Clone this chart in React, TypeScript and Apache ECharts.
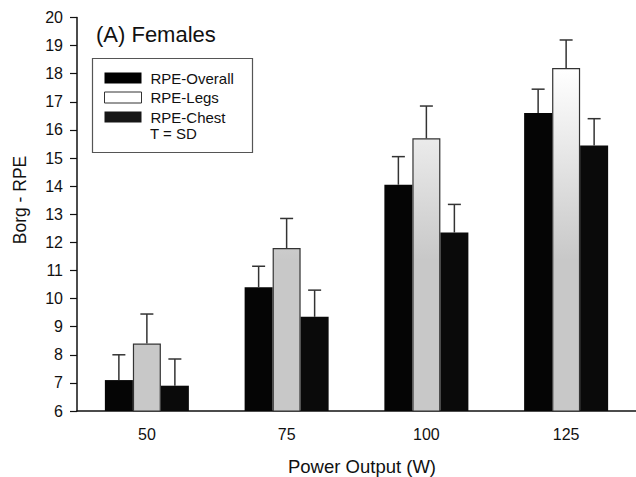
import React, { useEffect, useRef } from "react";
import * as echarts from "echarts";

const categories = ["50", "75", "100", "125"];
const seriesNames = ["RPE-Overall", "RPE-Legs", "RPE-Chest"];
const overall = [7.1, 10.4, 14.05, 16.6];
const overallSD = [0.9, 0.75, 1.0, 0.85];
const legs = [8.4, 11.8, 15.7, 18.2];
const legsSD = [1.05, 1.05, 1.15, 1.0];
const chest = [6.9, 9.35, 12.35, 15.45];
const chestSD = [0.95, 0.95, 1.0, 0.95];
const yTicks = { min: 6, max: 20, interval: 1 };

const FONT = "'Liberation Sans', Arial, Helvetica, sans-serif";
const INK = "#111";
const BAR_W = 28;

export default function App() {
  const ref = useRef<HTMLDivElement>(null);
  useEffect(() => {
    if (!ref.current) return;
    const chart = echarts.init(ref.current, null, { renderer: "svg" });

    const legsFill = new echarts.graphic.LinearGradient(
      0, 70, 0, 260,
      [
        { offset: 0, color: "#ffffff" },
        { offset: 1, color: "#c8c8c8" },
      ],
      true
    );

    const errSeries = (means: number[], sds: number[], offset: number) => ({
      type: "custom",
      silent: true,
      z: 5,
      data: means.map((m, i) => [i, m, m + sds[i]]),
      encode: { x: 0, y: [1, 2] },
      renderItem: (params: any, api: any) => {
        const i = api.value(0);
        const a = api.coord([i, api.value(1)]);
        const b = api.coord([i, api.value(2)]);
        const x = a[0] + offset;
        const style = { stroke: "#333", lineWidth: 1.5 };
        return {
          type: "group",
          children: [
            { type: "line", shape: { x1: x, y1: a[1], x2: x, y2: b[1] }, style },
            { type: "line", shape: { x1: x - 6.5, y1: b[1], x2: x + 6.5, y2: b[1] }, style },
          ],
        };
      },
    });

    chart.setOption({
      animation: false,
      textStyle: { fontFamily: FONT, color: INK },
      grid: { left: 77, right: -5, top: 17.5, bottom: 66 },
      legend: {
        orient: "vertical",
        left: 104,
        top: 70.5,
        padding: 0,
        itemWidth: 37,
        itemHeight: 11,
        itemGap: 4.5,
        icon: "rect",
        textStyle: { fontSize: 15, lineHeight: 15, color: INK, fontFamily: FONT, padding: [0, 0, 0, 4] },
        data: [
          { name: seriesNames[0], itemStyle: { color: "#000" } },
          { name: seriesNames[1], itemStyle: { color: "#fff", borderColor: "#333", borderWidth: 1 } },
          { name: seriesNames[2], itemStyle: { color: "#161616" } },
        ],
      },
      xAxis: {
        type: "category",
        data: categories,
        axisLine: { lineStyle: { color: "#111", width: 1.5 } },
        axisTick: { alignWithLabel: true, length: 5, lineStyle: { color: "#111", width: 1.2 } },
        axisLabel: { fontSize: 16, color: INK, margin: 15, fontFamily: FONT },
        splitLine: { show: false },
      },
      yAxis: {
        type: "value",
        min: yTicks.min,
        max: yTicks.max,
        interval: yTicks.interval,
        axisLine: { show: true, lineStyle: { color: "#111", width: 1.5 } },
        axisTick: { show: true, length: 7, lineStyle: { color: "#111", width: 1.2 } },
        axisLabel: { fontSize: 16, color: INK, margin: 14, fontFamily: FONT },
        splitLine: { show: false },
      },
      graphic: [
        {
          type: "rect",
          shape: { x: 92.5, y: 58.5, width: 160, height: 94 },
          style: { fill: "none", stroke: "#555", lineWidth: 1.2 },
          z: 1,
        },
        {
          type: "text",
          x: 150,
          y: 133.5,
          style: { text: "T = SD", fontSize: 15, fontFamily: FONT, fill: INK, verticalAlign: "middle", align: "left" },
        },
        {
          type: "text",
          x: 96,
          y: 34,
          style: { text: "(A) Females", fontSize: 22, fontFamily: FONT, fill: INK, verticalAlign: "middle", align: "left" },
        },
        {
          type: "text",
          x: 20,
          y: 200,
          rotation: Math.PI / 2,
          style: { text: "Borg - RPE", fontSize: 17.5, fontFamily: FONT, fill: INK, verticalAlign: "middle", align: "center" },
        },
        {
          type: "text",
          x: 362,
          y: 466.5,
          style: { text: "Power Output (W)", fontSize: 18.5, fontFamily: FONT, fill: INK, verticalAlign: "middle", align: "center" },
        },
      ],
      series: [
        {
          name: seriesNames[0],
          type: "bar",
          barWidth: BAR_W,
          barGap: "0%",
          data: overall,
          itemStyle: { color: "#050505" },
        },
        {
          name: seriesNames[1],
          type: "bar",
          barWidth: BAR_W,
          barGap: "0%",
          data: legs,
          itemStyle: { color: legsFill, borderColor: "#333", borderWidth: 1.2 },
        },
        {
          name: seriesNames[2],
          type: "bar",
          barWidth: BAR_W,
          barGap: "0%",
          data: chest,
          itemStyle: { color: "#0a0a0a" },
        },
        errSeries(overall, overallSD, -BAR_W),
        errSeries(legs, legsSD, 0),
        errSeries(chest, chestSD, BAR_W),
      ],
    });
    return () => chart.dispose();
  }, []);
  return (
    <div
      ref={ref}
      style={{ position: "absolute", left: 0, top: 0, width: 636, height: 477, background: "#fff" }}
    />
  );
}
